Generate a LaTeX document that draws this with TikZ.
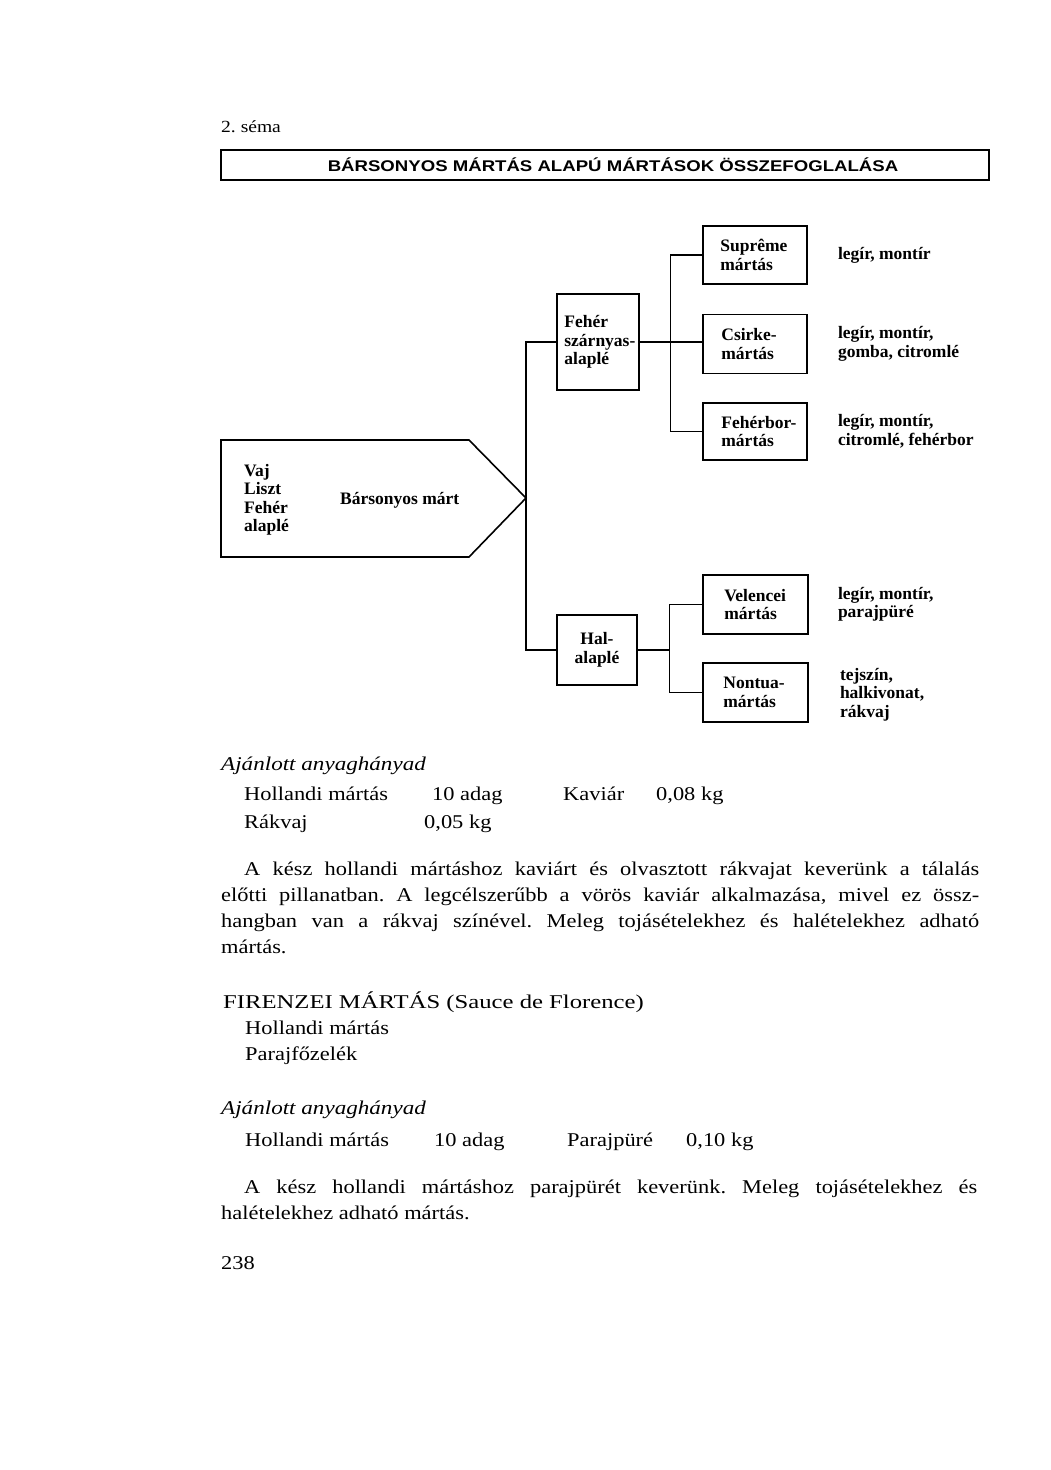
\documentclass[tikz,border=0pt]{standalone}
\usepackage{fontspec}
\usepackage{graphicx}
\setmainfont[FakeStretch=1.15]{Liberation Serif}
\newfontfamily\titlefont[FakeStretch=1.2]{Liberation Sans}
\newfontfamily\diagfamily{Liberation Serif}
\usetikzlibrary{positioning}
\frenchspacing

\newcommand\diagfont{\diagfamily\fontsize{17.5}{18.5}\selectfont\bfseries}
\newcommand\bodyfont{\fontsize{19.5}{26}\selectfont}

\tikzset{
  box/.style={draw, line width=1.6pt, inner sep=0pt, font=\diagfont, align=center},
  note/.style={inner sep=0pt, font=\diagfont, align=left},
  boxtext/.style={note, anchor=west},
  link/.style={line width=1.3pt},
  txt/.style={inner sep=0pt, anchor=base west, font=\bodyfont},
}

\begin{document}
\begin{tikzpicture}[x=1pt,y=-1pt]
  \useasboundingbox (0,0) rectangle (1051,1470);

  % header
  \node[txt, font=\fontsize{17}{20}\selectfont] (sema) at (221,132) {2. séma};
  \node[draw, line width=1.5pt, minimum width=768pt, minimum height=30pt, inner sep=0pt,
    font=\titlefont\fontsize{15.5}{18}\selectfont\bfseries] (title) at (605,165)
    {\hspace*{16pt}BÁRSONYOS MÁRTÁS ALAPÚ MÁRTÁSOK ÖSSZEFOGLALÁSA};

  % base
  \draw[line width=1.6pt] (221,440) -- (469,440) -- (526,498) -- (469,557) -- (221,557) -- cycle;
  \coordinate (tip) at (526,498);
  \node[note, anchor=west] (alap) at (244,500) {Vaj\\Liszt\\Fehér\\alaplé};
  \node[note, anchor=west] (barsony) at (340,500) {Bársonyos márt};

  % boxes
  \node[box, minimum width=82pt, minimum height=96pt,
    label={[boxtext, xshift=8pt]west:{Fehér\\szárnyas-\\alaplé}}] (feher) at (598,342) {};
  \node[box, minimum width=80pt, minimum height=70pt] (hal) at (597,650) {Hal-\\alaplé};
  \node[box, minimum width=104pt, minimum height=58pt,
    label={[boxtext, xshift=18pt]west:{Suprême\\mártás}}] (supreme) at (755,255) {};
  \node[box, minimum width=104pt, minimum height=59pt,
    label={[boxtext, xshift=19pt]west:{Csirke-\\mártás}}] (csirke) at (755,344) {};
  \node[box, minimum width=104pt, minimum height=57pt,
    label={[boxtext, xshift=19pt]west:{Fehérbor-\\mártás}}] (feherbor) at (755,431.5) {};
  \node[box, minimum width=105pt, minimum height=59pt,
    label={[boxtext, xshift=22pt]west:{Velencei\\mártás}}] (velencei) at (755.5,604.5) {};
  \node[box, minimum width=105pt, minimum height=59pt,
    label={[boxtext, xshift=21pt]west:{Nontua-\\mártás}}] (nontua) at (755.5,692.5) {};

  \node[note, right=30pt of supreme] (supremel) {legír, montír};
  \node[note, right=30pt of csirke] (csirkel) {legír, montír,\\gomba, citromlé};
  \node[note, right=30pt of feherbor] (feherborl) {legír, montír,\\citromlé, fehérbor};
  \node[note, right=29pt of velencei] (velenceil) {legír, montír,\\parajpüré};
  \node[note, right=31pt of nontua, yshift=-2pt] (nontual) {tejszín,\\halkivonat,\\rákvaj};

  % connectors
  \draw[link] (tip) |- (feher.west);
  \draw[link] (tip) |- (hal.west);
  \coordinate (fb) at ([xshift=31pt]feher.east);
  \draw[link] (feher.east) -- (feher.east -| csirke.west);
  \draw[link] (supreme.west) -| (fb) |- (feherbor.west);
  \coordinate (hb) at ([xshift=32pt]hal.east);
  \draw[link] (hal.east) -- (hb);
  \draw[link] (velencei.west) -| (hb) |- (nontua.west);

  % text
  \node[txt, font=\bodyfont\itshape] (ajanl) at (221,770) {\scalebox{1.03}[1]{Ajánlott anyaghányad}};
  \node[txt] (holl) at (244,800) {Hollandi mártás};
  \node[txt] (holladag) at (432,800) {10 adag};
  \node[txt] (kaviar) at (563,800) {Kaviár};
  \node[txt] (kaviarkg) at (656,800) {0,08 kg};
  \node[txt] (rakvaj) at (244,828) {Rákvaj};
  \node[txt] (rakvajkg) at (424,828) {0,05 kg};

  \node[txt] (para1) at (244,875) {\makebox[735pt][s]{A kész hollandi mártáshoz kaviárt és olvasztott rákvajat keverünk a tálalás}};
  \node[txt] (para2) at (221,901) {\makebox[758pt][s]{előtti pillanatban. A legcélszerűbb a vörös kaviár alkalmazása, mivel ez össz-}};
  \node[txt] (para3) at (221,927) {\makebox[758pt][s]{hangban van a rákvaj színével. Meleg tojásételekhez és halételekhez adható}};
  \node[txt] (para4) at (221,953) {mártás.};

  \node[txt] (firenze) at (223,1008) {\scalebox{1.1}[1]{FIRENZEI MÁRTÁS (Sauce de Florence)}};
  \node[txt] (fholl) at (245,1034) {Hollandi mártás};
  \node[txt] (fparaj) at (245,1060) {Parajfőzelék};

  \node[txt, font=\bodyfont\itshape] (fajanl) at (221,1114) {\scalebox{1.03}[1]{Ajánlott anyaghányad}};
  \node[txt] (fhm) at (245,1146) {Hollandi mártás};
  \node[txt] (fadag) at (434,1146) {10 adag};
  \node[txt] (fpure) at (567,1146) {Parajpüré};
  \node[txt] (fpurekg) at (686,1146) {0,10 kg};

  \node[txt] (fpara1) at (244,1193) {\makebox[733pt][s]{A kész hollandi mártáshoz parajpürét keverünk. Meleg tojásételekhez és}};
  \node[txt] (fpara2) at (221,1219) {halételekhez adható mártás.};

  \node[txt] (page) at (221,1269) {238};
\end{tikzpicture}
\end{document}
